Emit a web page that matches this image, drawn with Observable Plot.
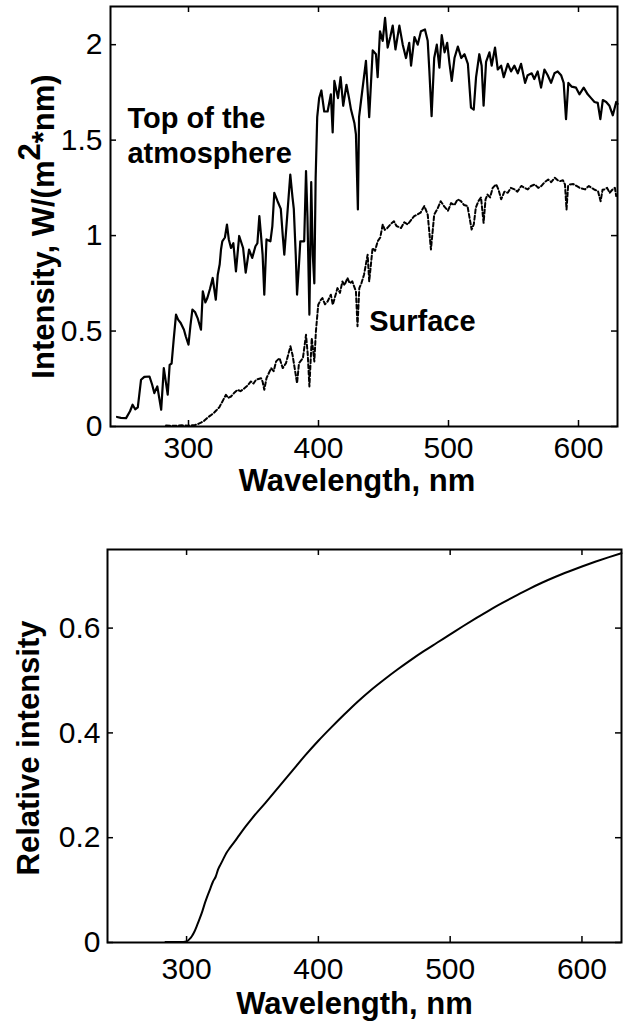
<!DOCTYPE html>
<html>
<head>
<meta charset="utf-8">
<script src="https://cdn.jsdelivr.net/npm/d3@7"></script>
<script src="https://cdn.jsdelivr.net/npm/@observablehq/plot@0.6"></script>
<style>
  body { margin: 0; background: #ffffff; }
  #chart { width: 627px; }
  #chart svg { display: block; }
</style>
</head>
<body>
<div id="chart"></div>
<script>
// ---------- Data ----------
const toaWavelength = [245,248,252,255,257,259,261,263.5,266,270,272,273.7,276,279,281,284,285.5,287,288.6,290.4,292,294,296.5,298,300,301.5,303,305,307,309.6,311,313,314.5,316.5,318.6,321,322.5,324,325,326,328,329.6,331,332.7,334.5,336.5,339,342,344,346.6,349,351.5,353,354.5,355.8,357,358.3,360,363,364.5,366,368.5,371,372.5,373.7,376,378.3,380,381,382.5,383.5,385,386,389,390.4,391.5,393,394.4,395.6,396.8,397.8,399,400.5,402.2,404.4,407,409.5,410.9,412.2,415,417,419,421.5,423.5,425,427.6,428.8,430.3,431.2,432.7,436.5,439,441.7,444.2,445.5,447.3,449.4,451.2,453.2,455.2,457.1,459.2,462.2,464.8,467.3,469.8,471.2,473.8,476.3,478.8,481.9,484,485.3,487,489,491,493,494.8,497,499,500.8,502.5,504.6,507.2,509.8,512.3,514.9,517.3,519.4,521.2,523.7,525.5,527,528.9,531.5,533.2,535.8,537.9,540.5,542.5,545.6,548.1,550.7,553.3,555.8,558.9,560.9,564,566,568.6,571.2,573.8,576.3,578.9,581.5,584,586.6,588.6,590.4,592.2,594.8,598.1,600.7,604,607.1,609.7,612.3,614.8,616.8,618.7,621.3,623.8,626.4,629,630];
const toaIntensity = [0.05,0.045,0.044,0.08,0.114,0.09,0.10,0.245,0.26,0.262,0.22,0.175,0.21,0.088,0.306,0.167,0.323,0.33,0.455,0.586,0.56,0.542,0.507,0.47,0.429,0.53,0.612,0.6,0.568,0.507,0.708,0.65,0.673,0.72,0.778,0.664,0.795,0.85,0.927,0.97,0.99,1.058,0.98,0.935,0.96,0.813,0.998,0.935,0.806,0.927,0.883,0.944,0.96,1.102,1.0,0.9,0.691,0.98,0.97,1.05,1.224,1.18,1.14,1.0,0.9,1.11,1.32,1.2,1.14,0.9,0.691,0.85,0.97,0.97,1.338,1.1,0.586,1.28,0.9,0.75,1.3,1.62,1.72,1.76,1.65,1.65,1.74,1.54,1.81,1.72,1.83,1.68,1.79,1.72,1.66,1.59,1.53,1.137,1.62,1.705,1.915,1.62,1.97,1.95,1.83,2.07,2.02,2.14,1.985,2.04,2.10,1.975,2.10,2.0,1.93,2.01,1.89,2.04,2.0,2.07,2.08,2.02,1.86,1.626,1.93,2.0,1.88,2.05,1.96,2.01,1.90,1.81,1.93,1.99,1.93,1.95,1.90,1.67,1.66,1.83,1.95,1.89,1.68,1.91,1.96,1.89,1.985,1.87,1.89,1.83,1.90,1.86,1.89,1.85,1.90,1.80,1.84,1.85,1.82,1.86,1.775,1.87,1.84,1.80,1.85,1.86,1.84,1.80,1.61,1.80,1.78,1.775,1.74,1.775,1.74,1.72,1.70,1.695,1.61,1.71,1.70,1.68,1.63,1.70,1.69];

const surfaceWavelength = [282.7,290,295,300,305,307,309.6,312,314.6,317,319.8,321.5,323.6,326,328.8,330.5,332.7,335,337.8,340,343,345.5,348,350,352,355.8,357,358.3,360,363.6,365.5,367.4,370,372.5,375,378.4,380,381.8,383.5,385,388,390.4,391.7,393,394.8,396.8,398,399.8,401.5,403,405,407,409.5,411,414.6,416.5,418.4,420,422.3,424,426,428.8,430,431.4,433,435,437.8,439,441.6,443.5,445.5,447.5,449.4,451,453,455.5,458,460,463.5,466,468.6,471,473.6,476,478.5,481.4,484,486.5,489,491.5,494,497,499.6,502,504.6,507,509.6,512,514.6,517.8,519.5,521,523,525,527,528.5,530,532,534,536.7,538.5,540.5,543,545.6,548,550.8,553,556,558.5,561,563.5,566.4,569,571.5,574,576.7,579,581.8,584,585.7,588,589.6,590.8,592,593.4,596,598.5,601,605,608,610,612.5,615,617,618.5,620,622,624,626,628,629];
const surfaceIntensity = [0.005,0.004,0.006,0.004,0.008,0.012,0.02,0.03,0.046,0.058,0.073,0.085,0.1,0.13,0.166,0.15,0.157,0.175,0.192,0.185,0.2,0.215,0.236,0.225,0.245,0.253,0.235,0.192,0.253,0.306,0.29,0.341,0.358,0.306,0.332,0.42,0.376,0.3,0.227,0.332,0.358,0.48,0.38,0.21,0.463,0.341,0.498,0.638,0.66,0.673,0.64,0.655,0.69,0.638,0.725,0.7,0.76,0.74,0.778,0.75,0.76,0.708,0.525,0.725,0.75,0.795,0.9,0.76,0.935,0.92,0.97,0.99,1.058,1.03,1.04,1.06,1.075,1.05,1.04,1.07,1.058,1.08,1.102,1.11,1.12,1.155,1.11,0.927,1.11,1.14,1.18,1.15,1.13,1.17,1.16,1.19,1.18,1.16,1.155,1.032,1.06,1.146,1.18,1.2,1.067,1.19,1.215,1.2,1.25,1.268,1.24,1.19,1.23,1.224,1.25,1.242,1.23,1.26,1.25,1.242,1.26,1.268,1.25,1.26,1.28,1.294,1.28,1.303,1.29,1.285,1.29,1.268,1.137,1.26,1.268,1.27,1.26,1.25,1.242,1.26,1.25,1.24,1.233,1.18,1.24,1.242,1.25,1.224,1.24,1.25,1.207];

const relWavelength = [284,290,295,300,302,304,306,308,310,312,314,316,318,320,322,324,326,328,330,333,336,340,345,350,360,370,380,390,400,410,420,430,440,450,460,470,480,490,500,510,520,530,540,550,560,570,580,590,600,610,620,630];
const relIntensity = [0.001,0.001,0.001,0.002,0.006,0.012,0.021,0.033,0.046,0.06,0.076,0.09,0.103,0.116,0.125,0.14,0.15,0.16,0.17,0.181,0.191,0.205,0.222,0.238,0.267,0.297,0.327,0.357,0.385,0.411,0.436,0.46,0.482,0.502,0.521,0.539,0.556,0.572,0.588,0.604,0.6195,0.6345,0.6485,0.662,0.675,0.687,0.698,0.708,0.7175,0.7265,0.735,0.743];

const xTicks = [300, 400, 500, 600];
const yTicksTop = [0, 0.5, 1, 1.5, 2];
const yTicksBottom = [0, 0.2, 0.4, 0.6];
const xLabel = "Wavelength, nm";
const yLabelTopParts = ["Intensity, W/(m", "2", "*nm)"];
const yLabelTop = yLabelTopParts.join("");
const yLabelBottom = "Relative intensity";
const annotationTop = "Top of the\natmosphere";
const annotationSurface = "Surface";

// ---------- Tables ----------
const toa = toaWavelength.map((w, i) => ({w, v: toaIntensity[i]}));
const surface = surfaceWavelength.map((w, i) => ({w, v: surfaceIntensity[i]}));
const rel = relWavelength.map((w, i) => ({w, v: relIntensity[i]}));

const FONT = "'Liberation Sans', Arial, Helvetica, sans-serif";
const tickLen = 6;

function boxTicks(innerW, innerH, yTicks) {
  return [
    Plot.tickX(xTicks, {x: d => d, insetTop: innerH - tickLen, stroke: "black", strokeWidth: 1.5}),
    Plot.tickX(xTicks, {x: d => d, insetBottom: innerH - tickLen, stroke: "black", strokeWidth: 1.5}),
    Plot.tickY(yTicks, {y: d => d, insetRight: innerW - tickLen, stroke: "black", strokeWidth: 1.5}),
    Plot.tickY(yTicks, {y: d => d, insetLeft: innerW - tickLen, stroke: "black", strokeWidth: 1.5})
  ];
}

// ---------- Top panel ----------
const topM = {left: 110, right: 10, top: 6, bottom: 74};
const topH = 500;
const topW = 627;
const topSvg = Plot.plot({
  width: topW, height: topH,
  marginLeft: topM.left, marginRight: topM.right, marginTop: topM.top, marginBottom: topM.bottom,
  style: {fontFamily: FONT, fontSize: "30px", color: "black", background: "white", overflow: "visible"},
  x: {domain: [240, 630]},
  y: {domain: [0, 2.2]},
  marks: [
    Plot.axisX(xTicks, {tickSize: 0, tickPadding: 10, label: null, fontSize: 30}),
    Plot.axisY(yTicksTop, {tickSize: 0, tickPadding: 8, label: null, fontSize: 30, tickFormat: d => String(d)}),
    Plot.line(surface, {x: "w", y: "v", stroke: "black", strokeWidth: 2, strokeDasharray: "4,2.5"}),
    Plot.line(toa, {x: "w", y: "v", stroke: "black", strokeWidth: 2.2}),
    ...boxTicks(topW - topM.left - topM.right, topH - topM.top - topM.bottom, yTicksTop),
    Plot.frame({stroke: "black", strokeWidth: 2}),
    Plot.text([annotationTop], {x: 253, y: 1.381, text: d => d, textAnchor: "start", lineAnchor: "bottom", lineHeight: 1.2, fontSize: 29, fontWeight: "bold", fill: "black"}),
    Plot.text([annotationSurface], {x: 439, y: 0.498, text: d => d, textAnchor: "start", lineAnchor: "bottom", fontSize: 29, fontWeight: "bold", fill: "black"}),
    Plot.text([xLabel], {frameAnchor: "bottom", text: d => d, dy: 42, dx: -7, lineAnchor: "top", textAnchor: "middle", fontSize: 31, fontWeight: "bold", fill: "black"}),
    Plot.text([yLabelTop], {frameAnchor: "left", text: d => d, rotate: -90, dx: -57, dy: 10, lineAnchor: "bottom", textAnchor: "middle", fontSize: 31, fontWeight: "bold", fill: "black"})
  ]
});

// ---------- Bottom panel ----------
const botM = {left: 107, right: 6, top: 49, bottom: 79};
const botH = 521;
const botW = 627;
const botSvg = Plot.plot({
  width: botW, height: botH,
  marginLeft: botM.left, marginRight: botM.right, marginTop: botM.top, marginBottom: botM.bottom,
  style: {fontFamily: FONT, fontSize: "30px", color: "black", background: "white", overflow: "visible"},
  x: {domain: [240, 630]},
  y: {domain: [0, 0.75]},
  marks: [
    Plot.axisX(xTicks, {tickSize: 0, tickPadding: 15, label: null, fontSize: 30}),
    Plot.axisY(yTicksBottom, {tickSize: 0, tickPadding: 7, label: null, fontSize: 30, tickFormat: d => String(d)}),
    Plot.line(rel, {x: "w", y: "v", stroke: "black", strokeWidth: 2, curve: "monotone-x"}),
    ...boxTicks(botW - botM.left - botM.right, botH - botM.top - botM.bottom, yTicksBottom),
    Plot.frame({stroke: "black", strokeWidth: 2}),
    Plot.text([xLabel], {frameAnchor: "bottom", text: d => d, dy: 49, dx: -10, lineAnchor: "top", textAnchor: "middle", fontSize: 31, fontWeight: "bold", fill: "black"}),
    Plot.text([yLabelBottom], {frameAnchor: "left", text: d => d, rotate: -90, dx: -69, dy: 2, lineAnchor: "bottom", textAnchor: "middle", fontSize: 31, fontWeight: "bold", fill: "black"})
  ]
});

const chart = document.getElementById("chart");
chart.append(topSvg, botSvg);

// Superscript "2" in the top y-axis label, kept as real text
topSvg.querySelectorAll("text").forEach(t => {
  if (t.textContent === yLabelTop) {
    while (t.firstChild) t.removeChild(t.firstChild);
    const ns = "http://www.w3.org/2000/svg";
    t.appendChild(document.createTextNode(yLabelTopParts[0]));
    const sup = document.createElementNS(ns, "tspan");
    sup.setAttribute("dy", "-0.42em");
    sup.textContent = yLabelTopParts[1];
    t.appendChild(sup);
    const rest = document.createElementNS(ns, "tspan");
    rest.setAttribute("dy", "0.42em");
    rest.textContent = yLabelTopParts[2];
    t.appendChild(rest);
  }
});
</script>
</body>
</html>
